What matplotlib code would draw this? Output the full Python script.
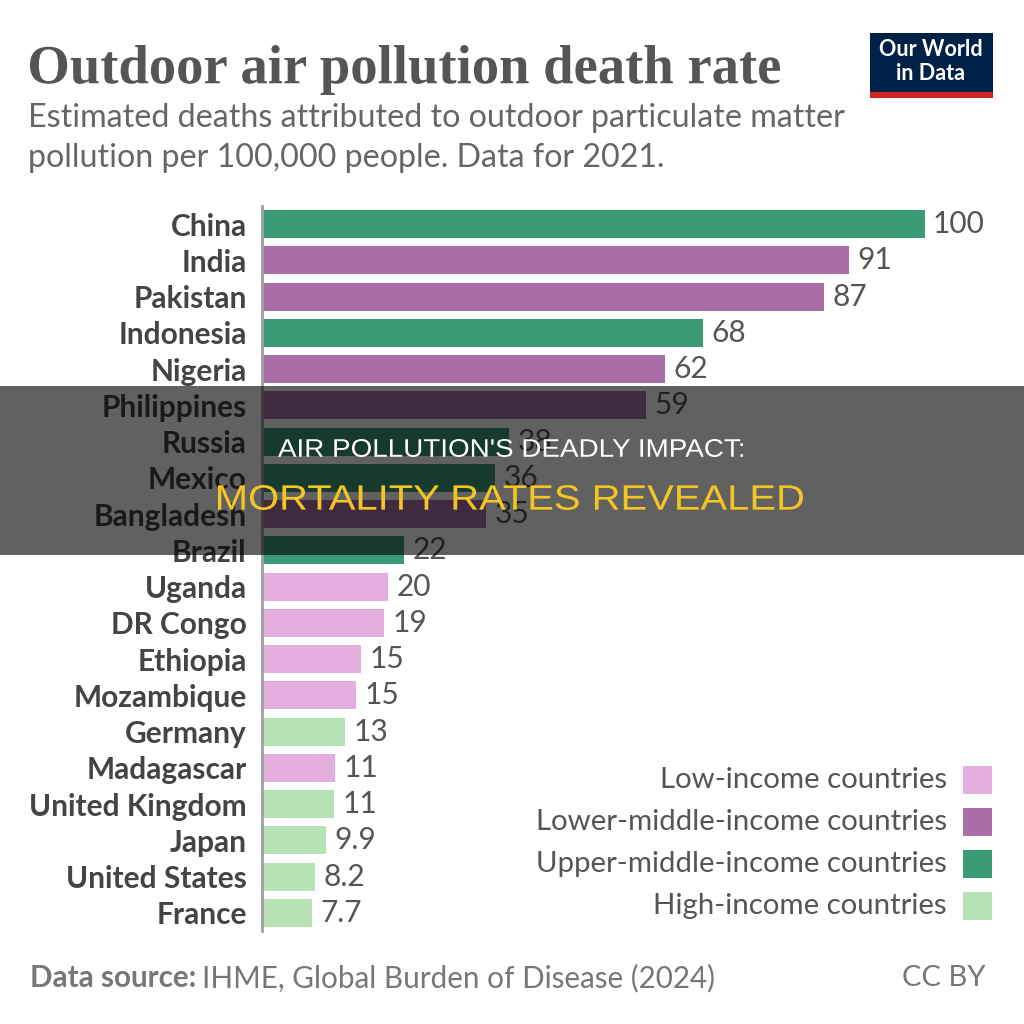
import matplotlib.pyplot as plt
from matplotlib.patches import Rectangle, PathPatch
from matplotlib.textpath import TextPath
from matplotlib.font_manager import FontProperties
from matplotlib.transforms import Affine2D
import numpy as np

countries = ['China', 'India', 'Pakistan', 'Indonesia', 'Nigeria', 'Philippines', 'Russia',
             'Mexico', 'Bangladesh', 'Brazil', 'Uganda', 'DR Congo', 'Ethiopia', 'Mozambique',
             'Germany', 'Madagascar', 'United Kingdom', 'Japan', 'United States', 'France']
# bar lengths as measured; labels as printed (rounded to 2 significant figures)
rates = [102.4, 90.7, 86.9, 68.2, 62.3, 59.4, 38.2, 36.0, 34.6, 22.0, 19.5, 18.8, 15.3, 14.6,
         12.8, 11.3, 11.1, 9.9, 8.2, 7.7]
labels = ['100', '91', '87', '68', '62', '59', '38', '36', '35', '22', '20', '19', '15', '15',
          '13', '11', '11', '9.9', '8.2', '7.7']
groups = ['upper', 'lower', 'lower', 'upper', 'lower', 'lower', 'upper', 'upper', 'lower', 'upper',
          'low', 'low', 'low', 'low', 'high', 'low', 'high', 'high', 'high', 'high']

group_names = ['low', 'lower', 'upper', 'high']
legend_labels = ['Low-income countries', 'Lower-middle-income countries',
                 'Upper-middle-income countries', 'High-income countries']
colors = {'low': '#e4aedf', 'lower': '#a96ea8', 'upper': '#3b9a76', 'high': '#b7e2b5'}

W = 1024.0
fig = plt.figure(figsize=(10.24, 10.24), dpi=100)
fig.patch.set_facecolor('white')


def fx(x):
    return x / W


def fy(y):
    return 1 - y / W


def box_text(s, x0, x1, ytop, ybot, family, color, weight='normal', zorder=5):
    # text drawn as a path and fitted into a pixel box (top-left origin)
    tp = TextPath((0, 0), s, size=100, prop=FontProperties(family=family, weight=weight))
    ext = tp.get_extents()
    sx = (x1 - x0) / ext.width
    sy = (ybot - ytop) / ext.height
    tr = (Affine2D().translate(-ext.x0, -ext.y0).scale(sx, sy)
          .translate(x0, W - ybot).scale(1 / W) + fig.transFigure)
    fig.patches.append(PathPatch(tp, transform=tr, facecolor=color, edgecolor='none',
                                 zorder=zorder))


# bar axes
ax_l, ax_r, ax_t, ax_b = 262, 1000, 206, 931
ax = fig.add_axes([fx(ax_l), fy(ax_b), fx(ax_r - ax_l), (ax_b - ax_t) / W])
scale = 6.47
ax.set_xlim(0, (ax_r - ax_l) / scale)
n = len(countries)
ypos = np.arange(n)
ax.set_ylim(n - 0.5, -0.5)
ax.barh(ypos, rates, height=0.77, color=[colors[g] for g in groups], zorder=2)
for y, v, t in zip(ypos, rates, labels):
    ax.text(v + 1.3, y, t, va='center', ha='left', fontsize=21.5, color='#555555', family='Lato')
ax.set_yticks(ypos)
ax.set_yticklabels(countries, fontsize=21.5, color='#444444', family='Lato', fontweight='bold')
ax.tick_params(axis='y', length=0, pad=11)
ax.set_xticks([])
for s in ['top', 'right', 'bottom']:
    ax.spines[s].set_visible(False)
ax.spines['left'].set_color('#a0a0a0')
ax.spines['left'].set_linewidth(2)
ax.set_facecolor('none')

# titles
box_text('Outdoor air pollution death rate', 30, 780, 45, 95, 'Liberation Serif', '#555555',
         weight='bold')
fig.text(fx(28), fy(118), 'Estimated deaths attributed to outdoor particulate matter',
         fontsize=23.2, color='#666666', family='Lato', va='center', ha='left')
fig.text(fx(28), fy(158), 'pollution per 100,000 people. Data for 2021.',
         fontsize=23.2, color='#666666', family='Lato', va='center', ha='left')

# logo
fig.patches.append(Rectangle((fx(870), fy(98)), fx(123), 65 / W, transform=fig.transFigure,
                             facecolor='#002147', edgecolor='none'))
fig.patches.append(Rectangle((fx(870), fy(98)), fx(123), 6 / W, transform=fig.transFigure,
                             facecolor='#ce261e', edgecolor='none'))
fig.text(fx(931), fy(50), 'Our World', fontsize=15.5, color='white', family='Lato',
         fontweight='bold', ha='center', va='center')
fig.text(fx(931), fy(73), 'in Data', fontsize=15.5, color='white', family='Lato',
         fontweight='bold', ha='center', va='center')

# legend
leg_y = [780, 822, 864, 906]
for g, lab, y in zip(group_names, legend_labels, leg_y):
    fig.patches.append(Rectangle((fx(963), fy(y + 14)), fx(29), 28 / W, transform=fig.transFigure,
                                 facecolor=colors[g], edgecolor='none'))
    fig.text(fx(947), fy(y), lab, fontsize=21.2, color='#555555', family='Lato',
             ha='right', va='center')

# footer
src = fig.text(fx(30), fy(978), 'Data source:', fontsize=21.3, color='#777777', family='Lato',
               fontweight='bold', ha='left', va='center')
r = fig.canvas.get_renderer()
bb = src.get_window_extent(renderer=r)
fig.text(fx(bb.x1 + 6), fy(978), 'IHME, Global Burden of Disease (2024)', fontsize=21.3,
         color='#777777', family='Lato', ha='left', va='center')
fig.text(fx(985), fy(978), 'CC BY', fontsize=21, color='#777777', family='Lato',
         ha='right', va='center')

# overlay band
fig.patches.append(Rectangle((0, fy(555)), 1, (555 - 386) / W, transform=fig.transFigure,
                             facecolor='black', alpha=0.62, edgecolor='none', zorder=10))
box_text("AIR POLLUTION'S DEADLY IMPACT:", 278, 743, 439, 457, 'Liberation Sans', 'white',
         zorder=11)
box_text('MORTALITY RATES REVEALED', 218, 803, 485, 510, 'Liberation Sans', '#f5c524',
         zorder=11)

fig.savefig('out.png', dpi=100)
